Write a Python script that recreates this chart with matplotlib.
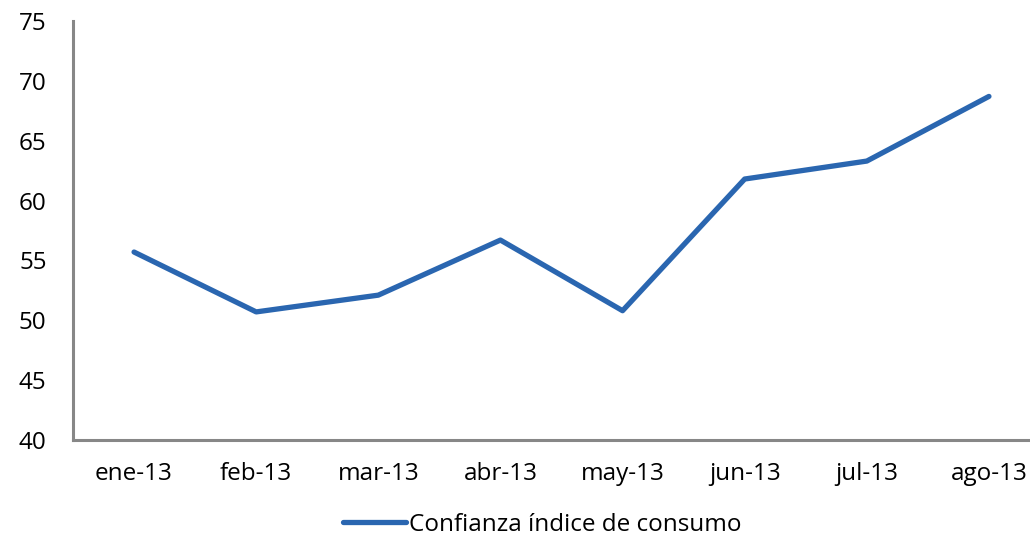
import matplotlib
matplotlib.use("Agg")
import matplotlib.pyplot as plt

plt.rcParams["font.family"] = ["Open Sans", "DejaVu Sans"]

months = ["ene-13", "feb-13", "mar-13", "abr-13", "may-13", "jun-13", "jul-13", "ago-13"]
confianza = [55.7, 50.7, 52.1, 56.7, 50.8, 61.8, 63.3, 68.7]
y_ticks = [40, 45, 50, 55, 60, 65, 70, 75]

fig = plt.figure(figsize=(10.30, 5.39), dpi=100)
# axes runs a little past the right edge, like the original export
ax = fig.add_axes([73 / 1030, 1 - 440 / 539, 977 / 1030, 419 / 539])

x = list(range(len(months)))
ax.plot(x, confianza, color="#2a66b0", linewidth=3.8, solid_capstyle="round",
        label="Confianza índice de consumo")

ax.set_xlim(-0.5, len(months) - 0.5)
ax.set_ylim(40, 75)
ax.set_yticks(y_ticks)
ax.set_xticks(x)
ax.set_xticklabels(months)

for side in ["top", "right"]:
    ax.spines[side].set_visible(False)
for side in ["left", "bottom"]:
    ax.spines[side].set_color("#878787")
    ax.spines[side].set_linewidth(2.2)

ax.tick_params(axis="y", length=0, pad=19, labelsize=17.5)
ax.tick_params(axis="x", length=0, pad=16, labelsize=17.5)

fig.legend(loc="center", bbox_to_anchor=(542 / 1030, 1 - 525 / 539), frameon=False,
           fontsize=17.5, handlelength=2.6, handletextpad=0.1)

fig.savefig("out.png", dpi=100)
plt.close(fig)
